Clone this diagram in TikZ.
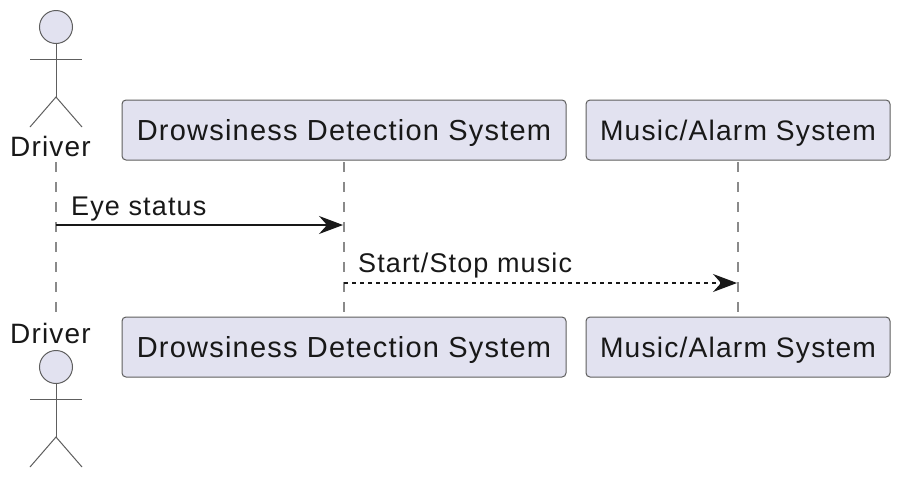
\documentclass[tikz,border=0pt]{standalone}
\usepackage{fontspec}
\setmainfont{Liberation Sans}[LetterSpace=4.2]
\usetikzlibrary{arrows.meta}
\definecolor{partfill}{HTML}{E2E2F0}
\definecolor{partline}{HTML}{5E5E5E}
\definecolor{lifeline}{HTML}{8A8A8A}
\definecolor{ink}{HTML}{181818}
\tikzset{
  x=1pt,y=-1pt,
  part/.style={draw=partline,fill=partfill,rounded corners=4pt,line width=1pt,minimum height=60pt,inner sep=0pt,text=ink,text height=20pt,text depth=0pt,font=\fontsize{29}{32}\selectfont},
  partsmall/.style={part,font=\fontsize{28.2}{32}\selectfont},
  lbl/.style={inner sep=0pt,text=ink,font=\fontsize{28}{32}\selectfont},
  msg/.style={inner sep=0pt,text=ink,anchor=base west,font=\fontsize{27}{30}\selectfont},
  life/.style={draw=lifeline,line width=1.1pt,dash pattern=on 10pt off 10pt},
  stick/.style={draw=partline,line width=1pt},
  head/.style={draw=partline,fill=partfill,line width=1pt,circle,minimum size=33pt,inner sep=0pt},
  call/.style={draw=ink,line width=1.2pt,-{Stealth[length=24pt,width=18pt,inset=8pt,fill=ink]}},
  reply/.style={call,dash pattern=on 4pt off 4pt}
}
\begin{document}
\begin{tikzpicture}
\useasboundingbox (0,0) rectangle (902,480);
% participants
\node[part,minimum width=444pt] (dt) at (344,130) {Drowsiness Detection System};
\node[partsmall,minimum width=304pt] (mt) at (738,130) {Music/Alarm System};
\node[part,minimum width=444pt] (db) at (344,347) {Drowsiness Detection System};
\node[partsmall,minimum width=304pt] (mb) at (738,347) {Music/Alarm System};
\node[lbl] (lt) at (50.5,146.5) {Driver};
\node[lbl] (lb) at (50.5,333) {Driver};
% lifelines
\coordinate (a1) at (56,162); \coordinate (a2) at (56,313);
\coordinate (d1) at (344,162); \coordinate (d2) at (344,313);
\coordinate (m1) at (738,162); \coordinate (m2) at (738,313);
\draw[life] (a1) -- (a2);
\draw[life] (d1) -- (d2);
\draw[life] (m1) -- (m2);
% top actor
\node[head] (h1) at (56,27) {};
\coordinate (n1) at (56,97); \coordinate (al1) at (30,59); \coordinate (ar1) at (82,59);
\coordinate (fl1) at (30,127); \coordinate (fr1) at (82,127);
\draw[stick] (h1.south) -- (n1);
\draw[stick] (al1) -- (ar1);
\draw[stick] (fl1) -- (n1) -- (fr1);
% bottom actor
\node[head] (h2) at (56,367) {};
\coordinate (n2) at (56,437); \coordinate (al2) at (30,399); \coordinate (ar2) at (82,399);
\coordinate (fl2) at (30,467); \coordinate (fr2) at (82,467);
\draw[stick] (h2.south) -- (n2);
\draw[stick] (al2) -- (ar2);
\draw[stick] (fl2) -- (n2) -- (fr2);
% messages
\coordinate (s1) at (56,225); \coordinate (e1) at (343,225);
\coordinate (s2) at (344,283); \coordinate (e2) at (737,283);
\draw[call] (s1) -- (e1);
\draw[reply] (s2) -- (e2);
\node[msg] (t1) at (71,215) {Eye status};
\node[msg] (t2) at (358,272) {Start/Stop music};
\end{tikzpicture}
\end{document}
